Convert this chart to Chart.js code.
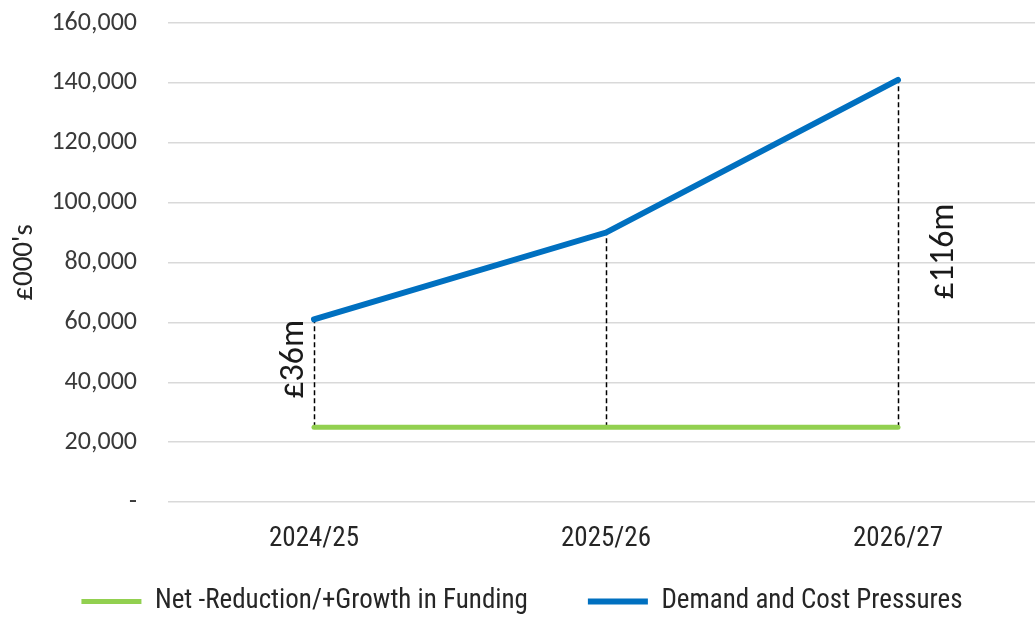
<!DOCTYPE html>
<html>
<head>
<meta charset="utf-8">
<script src="https://cdn.jsdelivr.net/npm/chart.js@4"></script>
<style>
    html, body { margin: 0; padding: 0; background: #fff; overflow: hidden; }
    #wrap { width: 1035px; height: 618px; overflow: hidden; }
</style>
</head>
<body>
<div id="wrap">
    <canvas id="myChart" width="1044" height="625"></canvas>
</div>
<script>
const categories = ['2024/25', '2025/26', '2026/27'];
const fundingValues = [25000, 25000, 25000];
const pressureValues = [61000, 90000, 141000];
const gapLabels = ['£36m', '', '£116m'];
const yMax = 160000;
const yStep = 20000;

// dashed drops between the two lines, plus the rotated gap labels
const gapPlugin = {
    id: 'gaps',
    beforeDatasetsDraw(chart) {
        const ctx = chart.ctx;
        const x = chart.scales.x;
        const y = chart.scales.y;
        ctx.save();
        ctx.strokeStyle = '#000';
        ctx.lineWidth = 1.5;
        ctx.setLineDash([5, 3]);
        categories.forEach((c, i) => {
            const px = Math.round(x.getPixelForValue(i)) + 0.5;
            ctx.beginPath();
            ctx.moveTo(px, y.getPixelForValue(fundingValues[i]));
            ctx.lineTo(px, y.getPixelForValue(pressureValues[i]));
            ctx.stroke();
        });
        ctx.restore();
    },
    afterDatasetsDraw(chart) {
        const ctx = chart.ctx;
        const x = chart.scales.x;
        const y = chart.scales.y;
        ctx.save();
        ctx.fillStyle = '#1a1a1a';
        ctx.font = '34px Carlito';
        ctx.textAlign = 'center';
        ctx.textBaseline = 'alphabetic';
        gapLabels.forEach((txt, i) => {
            if (!txt) return;
            const px = x.getPixelForValue(i);
            const top = y.getPixelForValue(pressureValues[i]);
            const bot = y.getPixelForValue(fundingValues[i]);
            // first label hugs the left of its line, last one sits well to the right
            const bx = i === 0 ? px - 11 : px + 55;
            const cy = i === 0 ? (top + bot) / 2 - 14 : (top + bot) / 2 - 2;
            ctx.save();
            ctx.translate(bx, cy);
            ctx.rotate(-Math.PI / 2);
            ctx.fillText(txt, 0, 0);
            ctx.restore();
        });
        ctx.restore();
    }
};

const ctx = document.getElementById('myChart').getContext('2d');

new Chart(ctx, {
    type: 'line',
    data: {
        labels: categories,
        datasets: [
            {
                label: 'Net -Reduction/+Growth in Funding',
                data: fundingValues,
                borderColor: '#92D050',
                backgroundColor: '#92D050',
                borderWidth: 5,
                borderCapStyle: 'round',
                pointRadius: 0,
                tension: 0
            },
            {
                label: 'Demand and Cost Pressures',
                data: pressureValues,
                borderColor: '#0070C0',
                backgroundColor: '#0070C0',
                borderWidth: 6,
                borderCapStyle: 'round',
                pointRadius: 0,
                tension: 0
            }
        ]
    },
    options: {
        responsive: false,
        animation: false,
        layout: { padding: { top: 23, right: 0, bottom: 0, left: 0 } },
        plugins: {
            tooltip: { enabled: false },
            legend: {
                position: 'bottom',
                labels: {
                    usePointStyle: true,
                    pointStyle: 'line',
                    pointStyleWidth: 60,
                    padding: 60,
                    color: '#262626',
                    font: { family: '"Roboto Condensed"', size: 27 }
                }
            }
        },
        scales: {
            x: {
                offset: true,
                afterFit(scale) {
                    // squeeze the axis box so the legend sits close; labels may spill below it
                    scale.height = 26;
                    scale.paddingLeft = 0;
                    scale.paddingRight = 0;
                    scale._computeLabelArea = () => null;
                },
                grid: { display: false, drawTicks: false },
                border: { display: false },
                ticks: {
                    padding: 21,
                    color: '#262626',
                    maxRotation: 0,
                    autoSkip: false,
                    font: { family: '"Roboto Condensed"', size: 27 }
                }
            },
            y: {
                min: 0,
                max: yMax,
                afterFit(scale) {
                    scale.width = 168;
                    scale.paddingTop = 0;
                    scale.paddingBottom = 0;
                },
                grid: { color: '#d9d9d9', lineWidth: 1.5, drawTicks: false },
                border: { display: false },
                title: {
                    display: true,
                    text: "£000's",
                    color: '#262626',
                    padding: { top: 7, bottom: 0 },
                    font: { family: 'Carlito', size: 29 }
                },
                ticks: {
                    stepSize: yStep,
                    padding: 31,
                    color: '#3a3a3a',
                    font: { family: 'Carlito', size: 26 },
                    callback: (v) => v === 0 ? '-' : v.toLocaleString('en-GB')
                }
            }
        }
    },
    plugins: [gapPlugin]
});
</script>
</body>
</html>
